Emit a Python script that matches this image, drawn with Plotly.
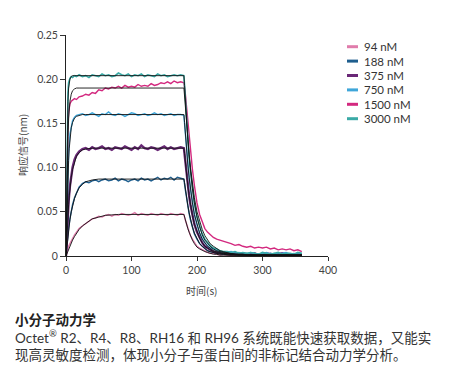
import plotly.graph_objects as go

# ---------------- data ----------------
labels = ["94 nM", "188 nM", "375 nM", "750 nM", "1500 nM", "3000 nM"]

t_data = [0, 1, 2, 3, 4, 6, 8, 10, 13, 16, 20,
          25, 30, 35, 40, 45, 50, 55, 60, 65, 70, 75, 80, 85, 90, 95, 100, 105, 110, 115,
          120, 125, 130, 135, 140, 145, 150, 155, 160, 165, 170, 175,
          180,
          182, 184, 186, 188, 190, 193, 196, 200, 204, 208, 212, 216, 220, 225, 230, 235, 240,
          246, 252, 258, 264, 270, 276, 282, 288, 294, 300, 306, 312, 318, 324, 330, 336, 342, 348, 354, 360]

r_94 = [0, 0.003, 0.006, 0.009, 0.011, 0.014, 0.017, 0.020, 0.024, 0.027, 0.031,
        0.034, 0.037, 0.040, 0.042, 0.043, 0.045, 0.044, 0.046, 0.047, 0.045, 0.047, 0.046, 0.048, 0.047, 0.046, 0.047, 0.049, 0.046, 0.048,
        0.047, 0.046, 0.048, 0.047, 0.046, 0.048, 0.047, 0.046, 0.048, 0.047, 0.046, 0.048,
        0.047,
        0.041, 0.036, 0.031, 0.027, 0.023, 0.019, 0.015, 0.011, 0.009, 0.007, 0.005, 0.004, 0.003, 0.003, 0.002, 0.001, 0.002,
        0.001, 0.000, 0.001, -0.001, 0.000, 0.001, -0.001, 0.000, -0.002, 0.000, 0.001, -0.001, -0.003, -0.002, 0.000, -0.001, 0.000, 0.001, 0.000, -0.001]

r_188 = [0, 0.009, 0.017, 0.025, 0.032, 0.042, 0.051, 0.058, 0.066, 0.072, 0.078,
         0.082, 0.084, 0.083, 0.085, 0.086, 0.084, 0.086, 0.087, 0.085, 0.086, 0.088, 0.085, 0.087, 0.086, 0.084, 0.086, 0.087, 0.085, 0.088,
         0.086, 0.087, 0.085, 0.087, 0.089, 0.086, 0.088, 0.087, 0.089, 0.086, 0.089, 0.088,
         0.087,
         0.076, 0.065, 0.056, 0.048, 0.041, 0.032, 0.025, 0.019, 0.014, 0.011, 0.008, 0.006, 0.005, 0.004, 0.003, 0.003, 0.002,
         0.002, 0.003, 0.002, 0.001, 0.002, 0.003, 0.002, 0.001, 0.002, 0.002, 0.001, 0.003, 0.002, 0.001, 0.002, 0.002, 0.001, 0.002, 0.001, 0.002]

r_375 = [0, 0.020, 0.037, 0.050, 0.062, 0.079, 0.092, 0.100, 0.109, 0.114, 0.118,
         0.121, 0.122, 0.120, 0.123, 0.121, 0.122, 0.124, 0.121, 0.122, 0.120, 0.123, 0.122, 0.121, 0.124, 0.122, 0.120, 0.123, 0.121, 0.125,
         0.122, 0.121, 0.123, 0.122, 0.120, 0.122, 0.124, 0.121, 0.123, 0.121, 0.122, 0.123,
         0.122,
         0.107, 0.092, 0.079, 0.068, 0.058, 0.046, 0.036, 0.027, 0.020, 0.015, 0.011, 0.009, 0.007, 0.005, 0.004, 0.004, 0.003,
         0.003, 0.002, 0.003, 0.002, 0.003, 0.002, 0.002, 0.003, 0.001, 0.002, 0.003, 0.002, 0.001, 0.002, 0.003, 0.002, 0.001, 0.002, 0.002, 0.001]

r_750 = [0, 0.040, 0.075, 0.100, 0.118, 0.138, 0.148, 0.153, 0.157, 0.159, 0.160,
         0.161, 0.159, 0.160, 0.162, 0.160, 0.158, 0.161, 0.160, 0.163, 0.160, 0.159, 0.161, 0.160, 0.158, 0.160, 0.162, 0.161, 0.159, 0.160,
         0.161, 0.159, 0.160, 0.162, 0.160, 0.161, 0.159, 0.160, 0.161, 0.159, 0.160, 0.160,
         0.159,
         0.141, 0.121, 0.104, 0.089, 0.076, 0.060, 0.047, 0.035, 0.026, 0.020, 0.015, 0.012, 0.009, 0.008, 0.006, 0.005, 0.004,
         0.004, 0.005, 0.003, 0.004, 0.003, 0.002, 0.004, 0.003, 0.002, 0.003, 0.004, 0.002, 0.003, 0.002, 0.003, 0.004, 0.002, 0.003, 0.002, 0.003]

r_1500 = [0, 0.070, 0.120, 0.150, 0.163, 0.172, 0.175, 0.176, 0.178, 0.177, 0.180,
          0.181, 0.183, 0.182, 0.185, 0.184, 0.188, 0.187, 0.190, 0.189, 0.191, 0.190, 0.192, 0.190, 0.193, 0.191, 0.192, 0.191, 0.194, 0.192,
          0.193, 0.192, 0.195, 0.193, 0.194, 0.196, 0.195, 0.197, 0.195, 0.198, 0.196, 0.197,
          0.196,
          0.185, 0.168, 0.150, 0.134, 0.118, 0.098, 0.080, 0.060, 0.047, 0.038, 0.031, 0.027, 0.024, 0.021, 0.019, 0.018, 0.017,
          0.015, 0.014, 0.012, 0.013, 0.011, 0.010, 0.011, 0.009, 0.010, 0.009, 0.010, 0.008, 0.009, 0.007, 0.008, 0.007, 0.008, 0.006, 0.007, 0.005]

r_3000 = [0, 0.100, 0.160, 0.185, 0.196, 0.201, 0.203, 0.202, 0.204, 0.203, 0.205,
          0.203, 0.204, 0.202, 0.205, 0.204, 0.203, 0.206, 0.204, 0.205, 0.203, 0.204, 0.207, 0.205, 0.204, 0.206, 0.203, 0.205, 0.204, 0.206,
          0.203, 0.205, 0.204, 0.203, 0.206, 0.204, 0.205, 0.203, 0.204, 0.205, 0.204, 0.205,
          0.204,
          0.178, 0.153, 0.131, 0.112, 0.096, 0.076, 0.060, 0.044, 0.033, 0.025, 0.019, 0.015, 0.012, 0.009, 0.008, 0.006, 0.005,
          0.005, 0.004, 0.005, 0.003, 0.004, 0.003, 0.004, 0.003, 0.002, 0.004, 0.003, 0.002, 0.003, 0.004, 0.002, 0.003, 0.003, 0.002, 0.004, 0.003]

t_fit = [0, 1, 2, 3, 4, 5, 6, 8, 10, 13, 16, 20, 25, 30, 35, 40, 50, 60, 70, 80,
         180,
         181, 182, 184, 186, 188, 190, 193, 196, 200, 204, 208, 212, 216, 220, 225, 230, 235, 240,
         250, 260, 270, 280, 300, 330, 360]

fit_94 = [0, 0.002, 0.004, 0.006, 0.008, 0.010, 0.012, 0.015, 0.018, 0.022, 0.026, 0.030, 0.034, 0.037, 0.040, 0.042, 0.044, 0.046, 0.0465, 0.047,
          0.047,
          0.044, 0.041, 0.036, 0.031, 0.027, 0.023, 0.018, 0.014, 0.010, 0.008, 0.006, 0.005, 0.004, 0.003, 0.002, 0.002, 0.001, 0.001,
          0.001, 0.001, 0.001, 0.001, 0.001, 0.001, 0.001]
fit_188 = [0, 0.008, 0.016, 0.023, 0.030, 0.036, 0.041, 0.050, 0.057, 0.065, 0.071, 0.077, 0.081, 0.084, 0.085, 0.086, 0.087, 0.087, 0.087, 0.087,
           0.087,
           0.083, 0.077, 0.066, 0.057, 0.049, 0.042, 0.033, 0.026, 0.019, 0.014, 0.011, 0.008, 0.006, 0.005, 0.004, 0.003, 0.002, 0.002,
           0.001, 0.001, 0.001, 0.001, 0.001, 0.001, 0.001]
fit_375 = [0, 0.018, 0.034, 0.047, 0.058, 0.068, 0.077, 0.089, 0.098, 0.107, 0.113, 0.117, 0.120, 0.121, 0.1215, 0.122, 0.122, 0.122, 0.122, 0.122,
           0.122,
           0.116, 0.107, 0.092, 0.079, 0.068, 0.058, 0.046, 0.036, 0.027, 0.020, 0.015, 0.011, 0.009, 0.007, 0.005, 0.004, 0.003, 0.003,
           0.002, 0.001, 0.001, 0.001, 0.001, 0.001, 0.001]
fit_750 = [0, 0.035, 0.065, 0.090, 0.108, 0.122, 0.132, 0.145, 0.151, 0.156, 0.158, 0.159, 0.160, 0.160, 0.160, 0.160, 0.160, 0.160, 0.160, 0.160,
           0.160,
           0.151, 0.140, 0.121, 0.103, 0.089, 0.076, 0.060, 0.047, 0.035, 0.026, 0.019, 0.015, 0.011, 0.009, 0.006, 0.005, 0.004, 0.003,
           0.002, 0.002, 0.001, 0.001, 0.001, 0.001, 0.001]
fit_1500 = [0, 0.060, 0.105, 0.135, 0.155, 0.167, 0.175, 0.183, 0.187, 0.189, 0.190, 0.190, 0.190, 0.190, 0.190, 0.190, 0.190, 0.190, 0.190, 0.190,
            0.190,
            0.181, 0.170, 0.150, 0.131, 0.115, 0.100, 0.082, 0.066, 0.050, 0.039, 0.030, 0.023, 0.018, 0.014, 0.011, 0.008, 0.006, 0.005,
            0.003, 0.002, 0.002, 0.001, 0.001, 0.001, 0.001]
fit_3000 = [0, 0.090, 0.145, 0.175, 0.190, 0.197, 0.200, 0.203, 0.204, 0.204, 0.204, 0.204, 0.204, 0.204, 0.204, 0.204, 0.204, 0.204, 0.204, 0.204,
            0.204,
            0.193, 0.178, 0.154, 0.132, 0.113, 0.097, 0.076, 0.060, 0.044, 0.033, 0.024, 0.018, 0.014, 0.011, 0.008, 0.006, 0.005, 0.004,
            0.003, 0.002, 0.002, 0.001, 0.001, 0.001, 0.001]

responses = [r_94, r_188, r_375, r_750, r_1500, r_3000]
fits = [fit_94, fit_188, fit_375, fit_750, fit_1500, fit_3000]

x_ticks = [0, 100, 200, 300, 400]
y_ticks = [0, 0.05, 0.10, 0.15, 0.20, 0.25]
y_ticktext = ["0", "0.05", "0.10", "0.15", "0.20", "0.25"]

x_title = "时间(s)"
y_title = "响应信号(nm)"
caption_title = "小分子动力学"
caption_lines = ["Octet<sup>®</sup> R2、R4、R8、RH16 和 RH96 系统既能快速获取数据，又能实",
                 "现高灵敏度检测，体现小分子与蛋白间的非标记结合动力学分析。"]

# ---------------- style ----------------
colors = ["#e07cab", "#1e5e8e", "#6a2877", "#3fa6d9", "#d3297f", "#3aaaa6"]
widths = [1.4, 1.4, 2.4, 1.4, 1.4, 1.6]
FONT = "Lato, 'Noto Sans CJK SC', sans-serif"
CJK = "'Noto Sans CJK SC', sans-serif"

# the page body has an 8px default margin, so the figure is drawn 8px in
OFF = 8
W, H = 468 - OFF, 379 - OFF
ML, MT = 58, 27                     # plot area starts at page (66, 35)
MR = W - (328 - OFF)                # plot area ends at page x = 328
MB = H - (256 - OFF)                # plot area ends at page y = 256
PW, PH = W - ML - MR, H - MT - MB


def px(x):  # page pixel -> paper
    return (x - OFF - ML) / PW


def py(y):
    return (H - MB - (y - OFF)) / PH


fig = go.Figure()
for lab, r, c, w in zip(labels, responses, colors, widths):
    fig.add_trace(go.Scatter(x=t_data, y=r, mode="lines", name=lab,
                             line=dict(color=c, width=w), showlegend=False))
for f in fits:
    fig.add_trace(go.Scatter(x=t_fit, y=f, mode="lines", line=dict(color="#111111", width=0.9),
                             showlegend=False, hoverinfo="skip"))

shapes = []
annotations = []
leg_y0, leg_dy = 46.7, 14.4
for i, (lab, c) in enumerate(zip(labels, colors)):
    yy = leg_y0 + i * leg_dy
    shapes.append(dict(type="line", xref="paper", yref="paper", x0=px(347), x1=px(358),
                       y0=py(yy), y1=py(yy), line=dict(color=c, width=3)))
    annotations.append(dict(xref="paper", yref="paper", x=px(362), y=py(yy), text=lab,
                            showarrow=False, xanchor="left", yanchor="middle",
                            font=dict(family=FONT, size=11.5, color="#333333")))

annotations.append(dict(xref="paper", yref="paper", x=px(22), y=py(145), text=y_title, textangle=-90,
                        showarrow=False, xanchor="center", yanchor="middle",
                        font=dict(family=CJK, size=10, color="#444444")))
annotations.append(dict(xref="paper", yref="paper", x=px(201), y=py(290), text=x_title,
                        showarrow=False, xanchor="center", yanchor="middle",
                        font=dict(family=CJK, size=10, color="#444444")))
annotations.append(dict(xref="paper", yref="paper", x=px(13), y=py(319), text="<b>" + caption_title + "</b>",
                        showarrow=False, xanchor="left", yanchor="middle",
                        font=dict(family=CJK, size=13.5, color="#222222")))
for j, line in enumerate(caption_lines):
    annotations.append(dict(xref="paper", yref="paper", x=px(13), y=py(337 + 18 * j), text=line,
                            showarrow=False, xanchor="left", yanchor="middle",
                            font=dict(family=FONT, size=13.5, color="#333333")))

fig.update_layout(
    width=W, height=H, margin=dict(l=ML, r=MR, t=MT, b=MB, pad=0),
    paper_bgcolor="white", plot_bgcolor="white",
    showlegend=False, shapes=shapes, annotations=annotations,
    xaxis=dict(range=[0, 400], tickvals=x_ticks, ticks="outside", ticklen=4, tickcolor="#333333",
               showline=True, linecolor="#222222", linewidth=1, showgrid=False, zeroline=False,
               tickfont=dict(family=FONT, size=10.5, color="#444444")),
    yaxis=dict(range=[0, 0.25], tickvals=y_ticks, ticktext=y_ticktext, ticks="outside", ticklen=5,
               tickcolor="#333333", showline=True, linecolor="#222222", linewidth=1, showgrid=False,
               zeroline=False, tickfont=dict(family=FONT, size=10.5, color="#444444")),
)

fig.write_html("out.html")
